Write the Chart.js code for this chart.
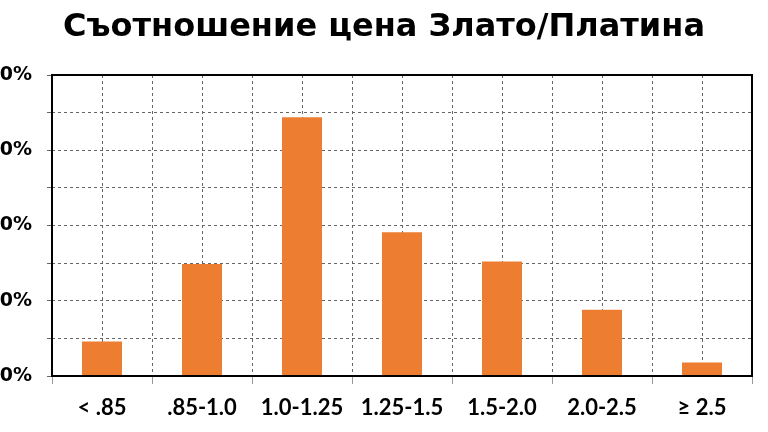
<!DOCTYPE html>
<html>
<head>
    <meta charset="utf-8" />
    <title>Съотношение цена Злато/Платина</title>
    <script src="https://cdn.jsdelivr.net/npm/chart.js@4"></script>
    <style>
        html, body { margin: 0; padding: 0; background: #fff; overflow: hidden; width: 768px; height: 432px; }
        #wrap { position: absolute; left: -22px; top: 0; width: 812px; height: 432px; }
    </style>
</head>
<body>
    <div id="wrap"><canvas id="ratioChart" width="812" height="432"></canvas></div>
    <script>
        // Categories and share of time (%) for each gold/platinum ratio band
        const categories = ['< .85', '.85-1.0', '1.0-1.25', '1.25-1.5', '1.5-2.0', '2.0-2.5', '≥ 2.5'];
        const shares = [4.6, 14.9, 34.4, 19.1, 15.2, 8.8, 1.8];
        const yMax = 40;
        const yStep = 5;

        const gridColor = '#666';
        const gridDash = [3, 3];

        // Solid frame around the plot area
        const frame = {
            id: 'frame',
            afterDatasetsDraw(chart) {
                const a = chart.chartArea;
                const ctx = chart.ctx;
                ctx.save();
                ctx.strokeStyle = '#000';
                ctx.lineWidth = 2;
                ctx.strokeRect(a.left, a.top, a.right - a.left, a.bottom - a.top);
                ctx.restore();
            }
        };

        new Chart(document.getElementById('ratioChart').getContext('2d'), {
            type: 'bar',
            data: {
                labels: categories,
                datasets: [{
                    data: shares,
                    backgroundColor: '#ED7D31',
                    barPercentage: 0.4,
                    categoryPercentage: 1.0,
                }],
            },
            options: {
                responsive: false,
                animation: false,
                layout: { padding: { left: 22, right: 22, top: 0, bottom: 0 } },
                plugins: {
                    legend: { display: false },
                    tooltip: { enabled: false },
                    title: {
                        display: true,
                        text: 'Съотношение цена Злато/Платина',
                        color: '#000',
                        font: { family: 'DejaVu Sans', size: 32, weight: 'bold', lineHeight: 1.2 },
                        padding: { top: 8, bottom: 28.6 },
                    },
                },
                scales: {
                    x: {
                        offset: true,
                        border: { display: false, dash: gridDash },
                        grid: {
                            offset: true,
                            color: gridColor,
                            lineWidth: 1,
                            tickLength: 8,
                            tickColor: '#999',
                            tickBorderDash: [],
                        },
                        ticks: {
                            color: '#000',
                            padding: 11,
                            font: { family: 'Lato', size: 22, weight: 'bold' },
                        },
                        afterFit(scale) { scale.height = 56; },
                    },
                    x2: {
                        type: 'category',
                        position: 'bottom',
                        offset: true,
                        border: { display: false, dash: gridDash },
                        grid: { offset: false, color: gridColor, lineWidth: 1, drawTicks: false },
                        ticks: { display: false },
                        afterFit(scale) { scale.height = 0; },
                    },
                    y: {
                        min: 0,
                        max: yMax,
                        border: { display: false, dash: gridDash },
                        grid: {
                            color: gridColor,
                            lineWidth: 1,
                            tickLength: 5,
                        },
                        ticks: {
                            stepSize: yStep,
                            color: '#000',
                            padding: 15,
                            font: { family: 'DejaVu Sans', size: 19, weight: 'bold' },
                            callback: v => (v % 10 === 0 ? v + '%' : ''),
                        },
                        afterFit(scale) { scale.width = 52; },
                    },
                    // empty spacer on the right
                    yR: {
                        position: 'right',
                        min: 0,
                        max: 1,
                        border: { display: false },
                        grid: { display: false },
                        ticks: { display: false },
                        afterFit(scale) { scale.width = 16; },
                    },
                },
            },
            plugins: [frame],
        });
    </script>
</body>
</html>
